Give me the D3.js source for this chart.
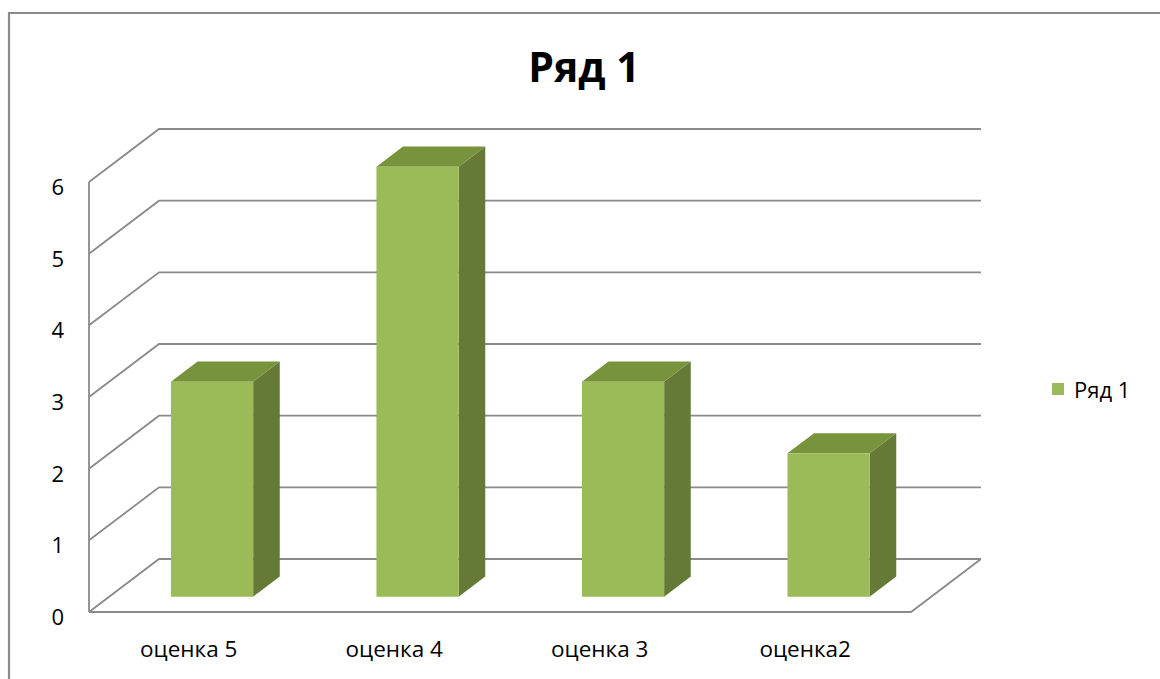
<!DOCTYPE html>
<html><head><meta charset="utf-8">
<script src="https://cdn.jsdelivr.net/npm/d3@7"></script>
<style>body{margin:0;background:#fff;} svg{display:block;font-family:"Open Sans","Noto Sans",sans-serif;}</style>
</head><body>
<script>
const categories = ["оценка 5", "оценка 4", "оценка 3", "оценка2"];
const values = [3, 6, 3, 2];
const yTicks = [0, 1, 2, 3, 4, 5, 6];
const seriesName = "Ряд 1";
const chartTitle = "Ряд 1";

const W = 1160, H = 679;
const svg = d3.select("body").append("svg").attr("width", W).attr("height", H);

// outer chart border
svg.append("path").attr("d", `M9,${H}V13H${W}`).attr("fill", "none")
  .attr("stroke", "#8c8c8c").attr("stroke-width", 2.2);

// 3D geometry
const ox = 89, oy = 612, depthX = 70, depthY = 53;
const x = d3.scaleBand().domain(categories).range([0, 822]).paddingInner(0.6).paddingOuter(0.3);
const y = d3.scaleLinear().domain([0, 6]).range([0, 430]);
const P = (px, v, t) => [ox + px + depthX * t, oy - depthY * t - y(v)];

const grid = "#8a8a8a";
const g = svg.append("g");
const line = d3.line();

// back wall gridlines and side wall diagonals
yTicks.forEach(v => {
  g.append("path").attr("d", line([P(0, v, 0), P(0, v, 1), P(822, v, 1)]))
    .attr("fill", "none").attr("stroke", grid).attr("stroke-width", 1.8);
});
// front-left vertical axis
g.append("path").attr("d", line([P(0, 0, 0), P(0, 6, 0)])).attr("fill", "none").attr("stroke", grid).attr("stroke-width", 1.8);
// floor
g.append("path").attr("d", line([P(0, 0, 0), P(822, 0, 0), P(822, 0, 1)]))
  .attr("fill", "none").attr("stroke", grid).attr("stroke-width", 1.8);

// y tick labels
svg.append("g").selectAll("text").data(yTicks).join("text")
  .attr("x", 64).attr("y", d => P(0, d, 0)[1] + 4)
  .attr("text-anchor", "end").attr("dominant-baseline", "central")
  .attr("font-size", 22).attr("fill", "#000").text(d => d);

// category labels
svg.append("g").selectAll("text").data(categories).join("text")
  .attr("x", d => P(x(d) + x.bandwidth() / 2, 0, 0)[0] - 3)
  .attr("y", 648).attr("text-anchor", "middle").attr("dominant-baseline", "central")
  .attr("font-size", 22.5).attr("fill", "#000").text(d => d);

// bars
const t0 = 0.29, t1 = 0.67;
const cFront = "#9bbb59", cSide = "#657a37", cTop = "#77933c";
const bars = svg.append("g").selectAll("g").data(categories.map((c, i) => ({c, v: values[i]}))).join("g");
bars.append("path").attr("fill", cSide).attr("d", d => {
  const x1 = x(d.c) + x.bandwidth();
  return line([P(x1, 0, t0), P(x1, 0, t1), P(x1, d.v, t1), P(x1, d.v, t0)]) + "Z";
});
bars.append("path").attr("fill", cTop).attr("d", d => {
  const x0 = x(d.c), x1 = x0 + x.bandwidth();
  return line([P(x0, d.v, t0), P(x1, d.v, t0), P(x1, d.v, t1), P(x0, d.v, t1)]) + "Z";
});
bars.append("path").attr("fill", cFront).attr("d", d => {
  const x0 = x(d.c), x1 = x0 + x.bandwidth();
  return line([P(x0, 0, t0), P(x1, 0, t0), P(x1, d.v, t0), P(x0, d.v, t0)]) + "Z";
});

// title
svg.append("text").attr("x", 584).attr("y", 66).attr("text-anchor", "middle")
  .attr("dominant-baseline", "central").attr("font-size", 41).attr("font-weight", "bold")
  .attr("fill", "#000").text(chartTitle);

// legend
svg.append("rect").attr("x", 1052).attr("y", 383).attr("width", 12).attr("height", 12).attr("fill", cFront);
svg.append("text").attr("x", 1074).attr("y", 389).attr("dominant-baseline", "central")
  .attr("font-size", 22).attr("fill", "#000").text(seriesName);
</script>
</body></html>
